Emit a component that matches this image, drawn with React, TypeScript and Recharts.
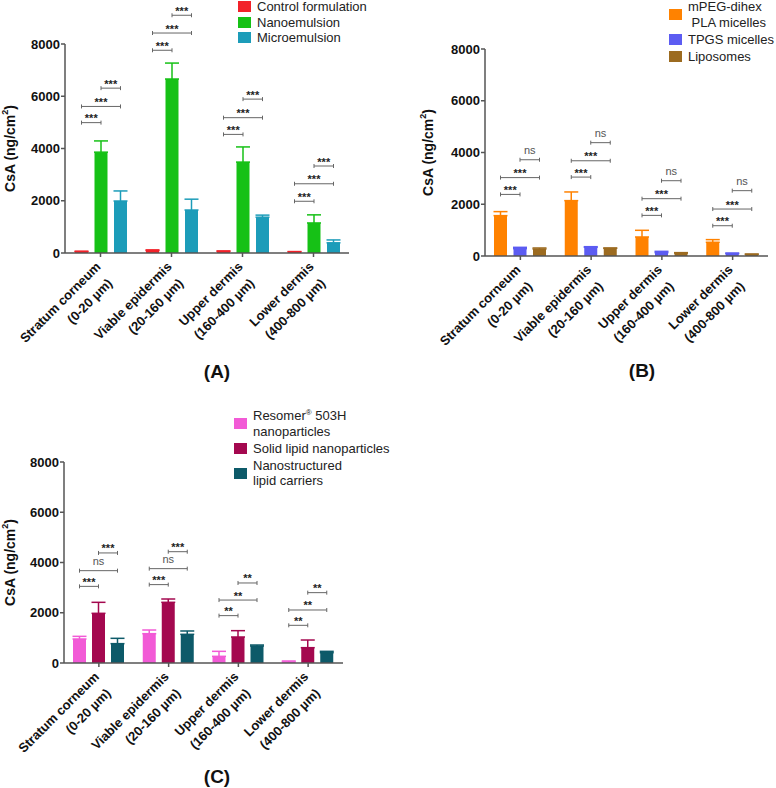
import { Bar, BarChart, ErrorBar, LabelList, Legend, XAxis, YAxis } from "recharts";

const FONT = '"Liberation Sans", Arial, Helvetica, sans-serif';

// skin layers on the category axis
const layers = ["Stratum corneum", "Viable epidermis", "Upper dermis", "Lower dermis"];
const depths = ["(0-20 µm)", "(20-160 µm)", "(160-400 µm)", "(400-800 µm)"];
const yTicks = [0, 2000, 4000, 6000, 8000];

// bars compared by each significance bracket, bottom to top
const pairs = [
  [0, 1],
  [0, 2],
  [1, 2],
];

// (A) emulsions
const aNames = ["Control formulation", "Nanoemulsion", "Microemulsion"];
const aColors = ["#f2222a", "#16c116", "#1c9cb9"];
const aControl = [50, 90, 60, 40];
const aControlSd = [20, 30, 20, 15];
const aNano = [3860, 6660, 3480, 1150];
const aNanoSd = [430, 610, 580, 310];
const aMicro = [1990, 1645, 1370, 390];
const aMicroSd = [385, 415, 80, 110];
const aSigY = [
  [4990, 5610, 6310],
  [7760, 8420, 9100],
  [4540, 5180, 5890],
  [1980, 2650, 3330],
];
const aSigText = [
  ["***", "***", "***"],
  ["***", "***", "***"],
  ["***", "***", "***"],
  ["***", "***", "***"],
];

// (B) micelles and liposomes
const bNames = ["mPEG-dihex\n PLA micelles", "TPGS micelles", "Liposomes"];
const bColors = ["#ff8200", "#5c5cf2", "#9c6b20"];
const bMpeg = [1560, 2140, 735, 530];
const bMpegSd = [155, 335, 258, 103];
const bTpgs = [283, 335, 129, 90];
const bTpgsSd = [52, 25, 51, 26];
const bLipo = [270, 296, 115, 64];
const bLipoSd = [40, 14, 15, 11];
const bSigY = [
  [2380, 3030, 3720],
  [3050, 3680, 4380],
  [1570, 2215, 2910],
  [1170, 1815, 2525],
];
const bSigText = [
  ["***", "***", "ns"],
  ["***", "***", "ns"],
  ["***", "***", "ns"],
  ["***", "***", "ns"],
];

// (C) polymeric and lipid nanoparticles
const cNames = ["Resomer® 503H\nnanoparticles", "Solid lipid nanoparticles", "Nanostructured\nlipid carriers"];
const cColors = ["#f25ad6", "#a4084f", "#0d5a69"];
const cResomer = [955, 1167, 265, 40];
const cResomerSd = [106, 146, 199, 40];
const cSln = [1977, 2415, 1035, 610];
const cSlnSd = [438, 132, 252, 305];
const cNlc = [770, 1141, 677, 411];
const cNlcSd = [212, 133, 39, 53];
const cSigY = [
  [3050, 3675, 4380],
  [3120, 3755, 4430],
  [1885, 2505, 3185],
  [1500, 2110, 2800],
];
const cSigText = [
  ["***", "ns", "***"],
  ["***", "ns", "***"],
  ["**", "**", "**"],
  ["**", "**", "**"],
];

const AXIS = { stroke: "#555", strokeWidth: 1.5 };

function LayerTick(props: any) {
  const { x, y, payload } = props;
  const i = payload.index;
  return (
    <g transform={`translate(${x + 1},${y + 8.5}) rotate(-45)`}>
      <text textAnchor="end" fontSize={13} fontWeight={700} fill="#111">
        {layers[i]}
      </text>
      <text x={-3.5} y={20} textAnchor="end" fontSize={13} fontWeight={700} fill="#111">
        {depths[i]}
      </text>
    </g>
  );
}

function yTitle(cx: number) {
  return (props: any) => {
    const vb = props.viewBox;
    const cy = vb.y + vb.height / 2;
    return (
      <text
        x={cx}
        y={cy}
        transform={`rotate(-90 ${cx} ${cy})`}
        textAnchor="middle"
        dominantBaseline="central"
        fontSize={14}
        fontWeight={700}
        fill="#111"
      >
        CsA (ng/cm
        <tspan dy={-5} fontSize={9}>
          2
        </tspan>
        <tspan dy={5}>)</tspan>
      </text>
    );
  };
}

function seriesName(name: string) {
  const parts = name.split("®");
  if (parts.length === 1) return name;
  return (
    <>
      {parts[0]}
      <span style={{ fontSize: 8, verticalAlign: "top", lineHeight: "10px" }}>®</span>
      {parts[1]}
    </>
  );
}

function SwatchLegend({ names, colors, gap }: { names: string[]; colors: string[]; gap: number }) {
  return (
    <div style={{ display: "flex", flexDirection: "column", gap, fontFamily: FONT }}>
      {names.map((n, i) => (
        <div key={n} style={{ display: "flex", alignItems: "center" }}>
          <span style={{ width: 13, height: 11, background: colors[i], marginRight: 6, flex: "none" }} />
          <span style={{ whiteSpace: "pre", lineHeight: "15.5px", fontSize: 13, color: "#222" }}>
            {seriesName(n)}
          </span>
        </div>
      ))}
    </div>
  );
}

type PanelProps = {
  names: string[];
  colors: string[];
  means: number[][];
  sds: number[][];
  sigY: number[][];
  sigText: string[][];
  host: number;
  width: number;
  height: number;
  margin: { top: number; right: number; bottom: number; left: number };
  yAxisWidth: number;
  titleX: number;
  barGap: number;
  legend: { left: number; top: number; gap: number };
};

function Panel(p: PanelProps) {
  const rows = layers.map((layer, i) => {
    const row: Record<string, any> = { layer };
    p.means.forEach((m, s) => {
      row[`s${s}`] = m[i];
      row[`e${s}`] = [0, p.sds[s][i]];
    });
    return row;
  });

  // brackets hang off one series' bars; pixel scale taken from that bar
  const brackets = (props: any) => {
    const vb = props.viewBox ?? props;
    const i = props.index;
    const value = p.means[p.host][i];
    const base = vb.y + vb.height;
    const k = vb.height / value;
    const step = vb.width + p.barGap;
    const cx = (s: number) => vb.x + vb.width / 2 + (s - p.host) * step;
    return (
      <g>
        {pairs.map(([a, b], j) => {
          const ly = base - p.sigY[i][j] * k;
          const x1 = cx(a);
          const x2 = cx(b);
          const t = p.sigText[i][j];
          const ns = t === "ns";
          return (
            <g key={j}>
              <path
                d={`M${x1},${ly - 2}V${ly + 2}M${x1},${ly}H${x2}M${x2},${ly - 2}V${ly + 2}`}
                stroke="#666"
                strokeWidth={1}
                fill="none"
              />
              <text
                x={(x1 + x2) / 2}
                y={ns ? ly - 5.5 : ly - 0.5}
                textAnchor="middle"
                fontSize={11}
                fontWeight={ns ? 400 : 700}
                fill={ns ? "#555" : "#222"}
              >
                {t}
              </text>
            </g>
          );
        })}
      </g>
    );
  };

  return (
    <BarChart
      width={p.width}
      height={p.height}
      data={rows}
      margin={p.margin}
      barSize={13}
      barGap={p.barGap}
    >
      <XAxis
        dataKey="layer"
        interval={0}
        height={80}
        tickSize={4}
        tickMargin={2}
        axisLine={AXIS}
        tickLine={AXIS}
        tick={(t: any) => <LayerTick {...t} />}
      />
      <YAxis
        width={p.yAxisWidth}
        domain={[0, 8000]}
        ticks={yTicks}
        tickSize={4}
        tickMargin={1}
        axisLine={AXIS}
        tickLine={AXIS}
        tick={{ fontSize: 13, fontWeight: 700, fill: "#111" }}
        label={{ content: yTitle(p.titleX) }}
      />
      <Legend
        layout="vertical"
        align="center"
        verticalAlign="middle"
        wrapperStyle={{ left: p.legend.left, top: p.legend.top, width: "auto", height: "auto" }}
        content={() => <SwatchLegend names={p.names} colors={p.colors} gap={p.legend.gap} />}
      />
      {p.names.map((n, s) => (
        <Bar key={n} name={n} dataKey={`s${s}`} fill={p.colors[s]} isAnimationActive={false}>
          <ErrorBar dataKey={`e${s}`} width={7} stroke={p.colors[s]} strokeWidth={1.5} direction="y" />
          {s === p.host && <LabelList dataKey={`s${s}`} content={brackets} />}
        </Bar>
      ))}
    </BarChart>
  );
}

const tag = { position: "absolute" as const, fontSize: 19, fontWeight: 700, color: "#111", transform: "translate(-50%, -50%)" };

export default function App() {
  return (
    <div style={{ position: "absolute", left: 0, top: 0, width: 776, height: 788, background: "#fff", fontFamily: FONT }}>
      <div style={{ position: "absolute", left: 0, top: 0 }}>
        <Panel
          names={aNames}
          colors={aColors}
          means={[aControl, aNano, aMicro]}
          sds={[aControlSd, aNanoSd, aMicroSd]}
          sigY={aSigY}
          sigText={aSigText}
          host={1}
          width={390}
          height={360}
          margin={{ top: 44, right: 41, bottom: 27, left: 0 }}
          yAxisWidth={65}
          titleX={10}
          barGap={6.5}
          legend={{ left: 238, top: -1, gap: 0 }}
        />
      </div>
      <div style={{ position: "absolute", left: 390, top: 0 }}>
        <Panel
          names={bNames}
          colors={bColors}
          means={[bMpeg, bTpgs, bLipo]}
          sds={[bMpegSd, bTpgsSd, bLipoSd]}
          sigY={bSigY}
          sigText={bSigText}
          host={0}
          width={386}
          height={360}
          margin={{ top: 49, right: 8, bottom: 24, left: 0 }}
          yAxisWidth={95}
          titleX={38}
          barGap={6.5}
          legend={{ left: 279, top: -1, gap: 1.5 }}
        />
      </div>
      <div style={{ position: "absolute", left: 0, top: 400 }}>
        <Panel
          names={cNames}
          colors={cColors}
          means={[cResomer, cSln, cNlc]}
          sds={[cResomerSd, cSlnSd, cNlcSd]}
          sigY={cSigY}
          sigText={cSigText}
          host={1}
          width={390}
          height={388}
          margin={{ top: 62, right: 47, bottom: 45, left: 0 }}
          yAxisWidth={64}
          titleX={10}
          barGap={6}
          legend={{ left: 234, top: 8, gap: 1.5 }}
        />
      </div>
      <div style={{ ...tag, left: 217, top: 372 }}>(A)</div>
      <div style={{ ...tag, left: 642, top: 371 }}>(B)</div>
      <div style={{ ...tag, left: 217, top: 777 }}>(C)</div>
    </div>
  );
}
